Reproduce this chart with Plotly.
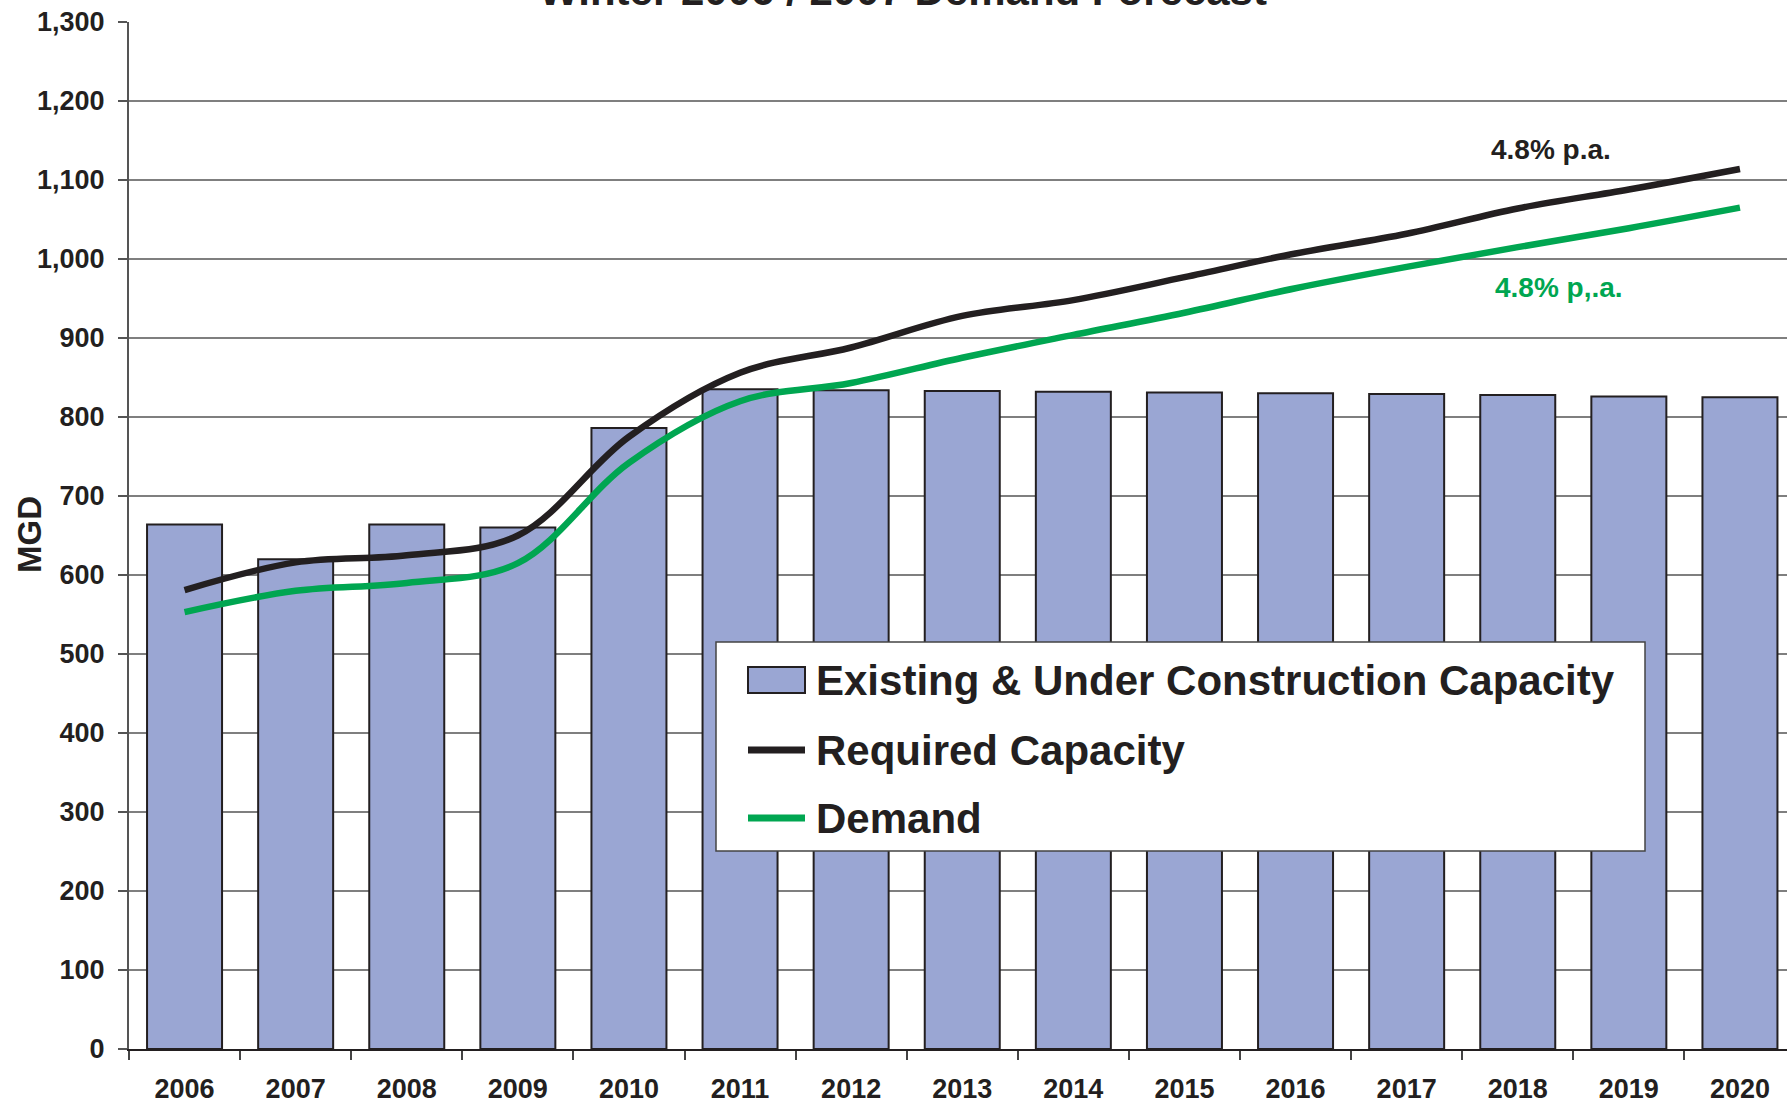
import plotly.graph_objects as go

years = [str(y) for y in range(2006, 2021)]
capacity = [664, 620, 664, 660, 786, 835, 834, 833, 832, 831, 830, 829, 828, 826, 825]
required = [581, 616, 625, 650, 775, 856, 888, 928, 948, 977, 1007, 1032, 1064, 1088, 1114]
demand = [553, 580, 590, 615, 742, 820, 843, 875, 904, 932, 963, 990, 1015, 1039, 1065]

y_ticks = list(range(0, 1301, 100))

BAR_COLOR = "#9AA6D3"
BLACK = "#231F20"
GREEN = "#00A651"
FONT = "Liberation Sans, Arial, sans-serif"

W, H = 1787, 1105
ML, MR, MT, MB = 129, 0, 22, 56

fig = go.Figure()
fig.add_trace(go.Bar(
    x=years, y=capacity, name="Existing & Under Construction Capacity",
    marker=dict(color=BAR_COLOR, line=dict(color=BLACK, width=2)),
    showlegend=False,
))
fig.add_trace(go.Scatter(
    x=years, y=required, name="Required Capacity", mode="lines",
    line=dict(color=BLACK, width=6.5, shape="spline", smoothing=1.0),
    showlegend=False,
))
fig.add_trace(go.Scatter(
    x=years, y=demand, name="Demand", mode="lines",
    line=dict(color=GREEN, width=6.5, shape="spline", smoothing=1.0),
    showlegend=False,
))

plot_w = W - ML - MR
plot_h = H - MT - MB
cat_w = 111.1
x_end = -0.5 + plot_w / cat_w

fig.update_layout(
    template="none",
    width=W, height=H,
    margin=dict(l=ML, r=MR, t=MT, b=MB, autoexpand=False),
    paper_bgcolor="white", plot_bgcolor="white",
    bargap=0.325,
    font=dict(family=FONT, color=BLACK),
    xaxis=dict(
        type="category", range=[-0.5, x_end],
        showgrid=False, showline=True, linecolor=BLACK, linewidth=2,
        ticks="outside", tickson="boundaries", ticklen=9, tickcolor="#444",
        tickwidth=1.5,
        tickfont=dict(family=FONT, size=27, color=BLACK, weight="bold"),
        ticklabelstandoff=15, ticklabeloverflow="allow",
        automargin=False, zeroline=False,
    ),
    yaxis=dict(
        range=[0, 1300], tickvals=y_ticks, tickformat=",",
        showgrid=True, gridcolor="#7F7F7F", gridwidth=1.5,
        showline=True, linecolor="#555", linewidth=2,
        ticks="outside", ticklen=9, tickcolor="#555", tickwidth=1.5,
        tickfont=dict(family=FONT, size=27, color=BLACK, weight="bold"),
        ticklabelstandoff=8, ticklabeloverflow="allow",
        automargin=False, zeroline=False,
    ),
)

# helpers: page pixel -> paper coords
def px_x(p):
    return (p - ML) / plot_w

def px_y(p):
    return (H - MB - p) / plot_h

annotations = [
    dict(text="<b>Winter 2006 / 2007 Demand Forecast</b>", xref="paper", yref="paper",
         x=px_x(903), y=1.0, xanchor="center", yanchor="bottom", yshift=6, showarrow=False,
         font=dict(family=FONT, size=42, color=BLACK)),
    dict(text="<b>MGD</b>", xref="paper", yref="paper", x=px_x(29), y=px_y(535),
         xanchor="center", yanchor="middle",
         textangle=-90, showarrow=False, font=dict(family=FONT, size=33, color=BLACK)),
    dict(text="<b>4.8% p.a.</b>", xref="paper", yref="paper", x=px_x(1551), y=px_y(149),
         xanchor="center", yanchor="middle",
         showarrow=False, font=dict(family=FONT, size=28, color=BLACK)),
    dict(text="<b>4.8% p,.a.</b>", xref="paper", yref="paper", x=px_x(1559), y=px_y(288),
         xanchor="center", yanchor="middle",
         showarrow=False, font=dict(family=FONT, size=28, color=GREEN)),
]

# manual legend (page pixel layout)
legend_items = [
    ("Existing & Under Construction Capacity", "bar", BAR_COLOR, 680),
    ("Required Capacity", "line", BLACK, 750),
    ("Demand", "line", GREEN, 818),
]
shapes = [dict(type="rect", xref="paper", yref="paper", layer="above",
               x0=px_x(716), x1=px_x(1645), y0=px_y(851), y1=px_y(642),
               fillcolor="white", line=dict(color="#444", width=1.5))]
for label, kind, color, yc in legend_items:
    if kind == "bar":
        shapes.append(dict(type="rect", xref="paper", yref="paper", layer="above",
                           x0=px_x(748), x1=px_x(805), y0=px_y(yc + 13), y1=px_y(yc - 13),
                           fillcolor=color, line=dict(color=BLACK, width=2)))
    else:
        shapes.append(dict(type="line", xref="paper", yref="paper", layer="above",
                           x0=px_x(748), x1=px_x(805), y0=px_y(yc), y1=px_y(yc),
                           line=dict(color=color, width=7)))
    annotations.append(dict(text=f"<b>{label}</b>", xref="paper", yref="paper",
                            x=px_x(814), y=px_y(yc), xanchor="left", yanchor="middle",
                            showarrow=False,
                            font=dict(family=FONT, size=42, color=BLACK)))

fig.update_layout(shapes=shapes, annotations=annotations)
fig.write_html("out.html",
               config={"displayModeBar": False},
               post_script="document.body.style.margin='0px';document.body.style.overflow='hidden';")
